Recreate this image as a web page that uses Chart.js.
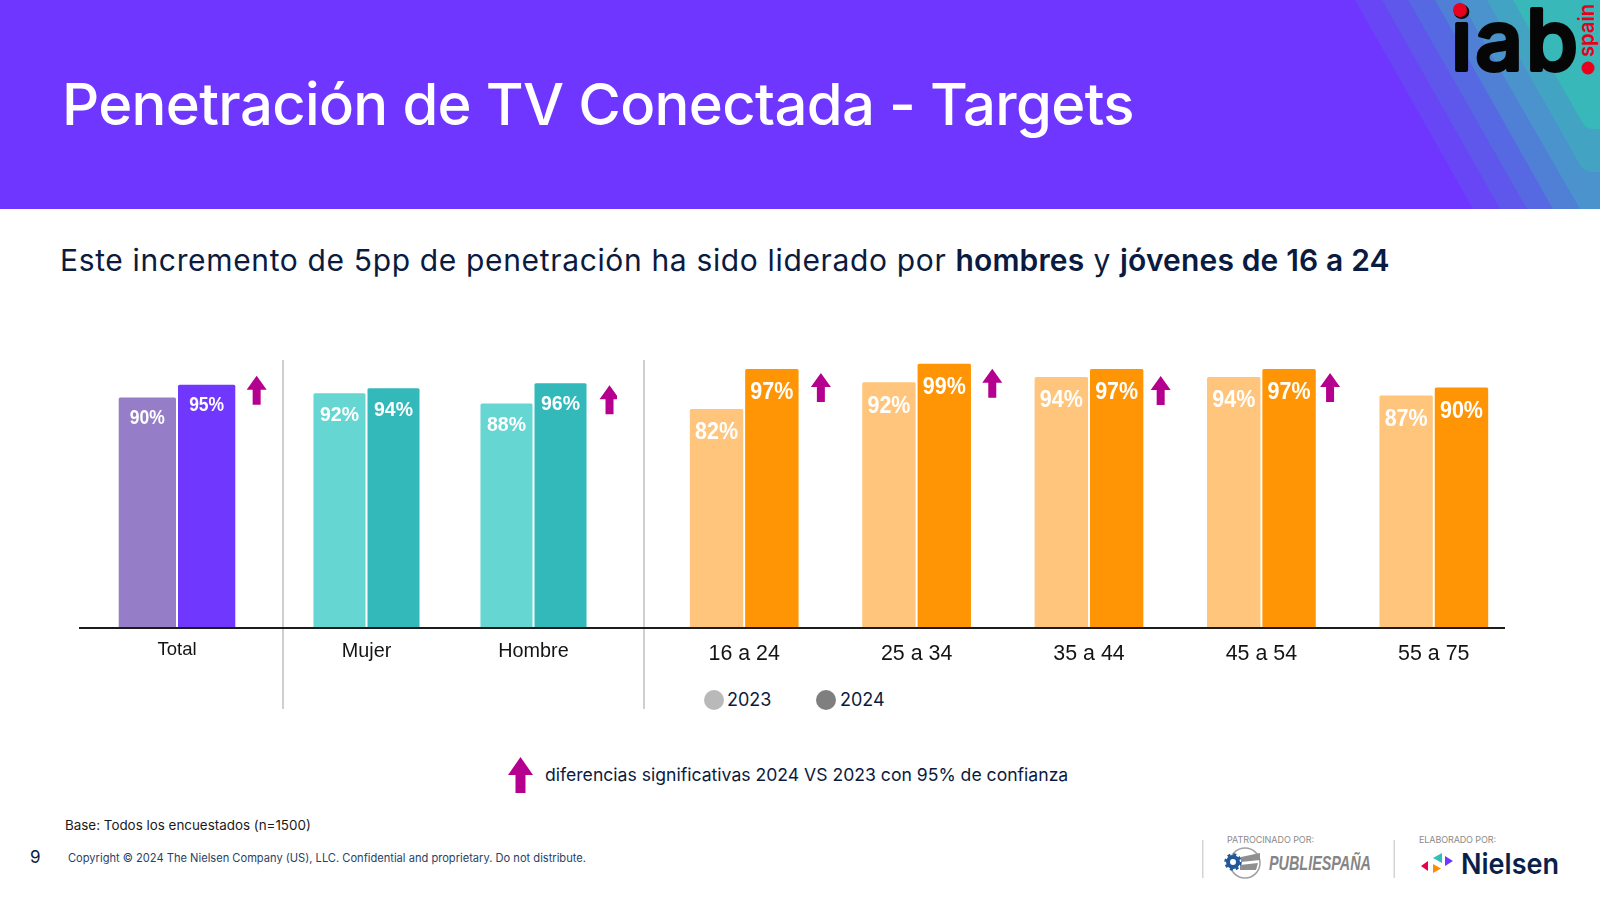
<!DOCTYPE html>
<html lang="es">
<head>
<meta charset="utf-8">
<title>Penetración de TV Conectada - Targets</title>
<script src="https://cdn.jsdelivr.net/npm/chart.js@4/dist/chart.umd.min.js"></script>
<style>
  html, body { margin: 0; background: #fff; }
  body { position: relative; width: 1600px; height: 900px; overflow: hidden; font-family: Inter, sans-serif; color: #0b1b40; }
  .abs { position: absolute; white-space: nowrap; }
  .panel { position: absolute; }
  #header { position: absolute; left: 0; top: 0; width: 1600px; height: 209px; }
  #title { left: 62px; top: 66px; font-size: 58px; font-weight: 500; line-height: 76px; color: #fff; letter-spacing: -0.65px; }
  #subtitle { left: 60px; top: 240px; font-size: 30px; line-height: 40px; letter-spacing: 0.65px; }
  #subtitle b { font-weight: 600; letter-spacing: 0.15px; }
  .sep { position: absolute; width: 2px; top: 360px; height: 349px; background: #cfcfd2; }
  #baseline { position: absolute; left: 79px; top: 627px; width: 1426px; height: 2px; background: #1c1c1c; }
  .dot { position: absolute; width: 20px; height: 20px; border-radius: 50%; top: 690px; }
  .legtext { top: 688px; font-size: 18px; line-height: 24px; }
</style>
</head>
<body>
<svg id="header" viewBox="0 0 1600 209">
  <rect width="1600" height="209" fill="#6e36ff"/>
  <polygon points="1355,0 1600,0 1600,209 1473,209" fill="#6846f6"/>
  <polygon points="1382,0 1600,0 1600,209 1500,209" fill="#5f56ec"/>
  <polygon points="1408,0 1600,0 1600,209 1527,209" fill="#5668e2"/>
  <polygon points="1435,0 1600,0 1600,209 1553,209" fill="#4f80d6"/>
  <polygon points="1460,0 1600,0 1600,209 1580,209" fill="#4a93cc"/>
  <path d="M1487,0 L1600,0 L1600,172 L1592,172 Q1584,172 1580,165 Z" fill="#42a4c2"/>
  <path d="M1513,0 L1600,0 L1600,129 L1592,129 Q1586,129 1582,122 Z" fill="#38b8b8"/>
  <text x="1451" y="70" font-family="Inter" font-weight="500" font-size="84" textLength="127" lengthAdjust="spacing" fill="#060606" stroke="#060606" stroke-width="4" stroke-linejoin="round">iab</text>
  <circle cx="1460" cy="10" r="7" fill="#e8001c"/>
  <text transform="translate(1594,57) rotate(-90)" font-family="Inter" font-weight="600" font-size="22" textLength="53" lengthAdjust="spacingAndGlyphs" fill="#e8001c">spain</text>
  <circle cx="1588" cy="68" r="6.5" fill="#e8001c"/>
</svg>
<div id="title" class="abs">Penetración de TV Conectada - Targets</div>
<div id="subtitle" class="abs">Este incremento de 5pp de penetración ha sido liderado por <b>hombres</b> y <b>jóvenes de 16 a 24</b></div>

<div class="sep" style="left:282px"></div>
<div class="sep" style="left:643px"></div>

<div class="panel" style="left:79px;top:372px;width:196px;height:305px"><canvas id="chartTotal"></canvas></div>
<div class="panel" style="left:283px;top:373px;width:334px;height:304px"><canvas id="chartGender"></canvas></div>
<div class="panel" style="left:658px;top:361px;width:862px;height:316px"><canvas id="chartAge"></canvas></div>
<div id="baseline"></div>

<div class="dot" style="left:704px;background:#b9b9b9"></div>
<div class="abs legtext" style="left:727px">2023</div>
<div class="dot" style="left:816px;background:#7f7f7f"></div>
<div class="abs legtext" style="left:840px">2024</div>

<svg class="abs" style="left:507px;top:756px" width="27" height="38" viewBox="0 0 27 38">
  <polygon points="13.5,1 26,19 18.5,19 18.5,37 8.5,37 8.5,19 1,19" fill="#b5008f"/>
</svg>
<div class="abs" style="left:545px;top:762px;font-size:17.6px;line-height:26px">diferencias significativas 2024 VS 2023 con 95% de confianza</div>

<div class="abs" style="left:65px;top:816px;font-size:13.4px;line-height:18px;color:#1a1a1a">Base: Todos los encuestados (n=1500)</div>
<div class="abs" style="left:30px;top:846px;font-size:17px;line-height:22px">9</div>
<div class="abs" style="left:68px;top:850px;font-size:11.12px;line-height:16px;color:#2a3f66">Copyright © 2024 The Nielsen Company (US), LLC. Confidential and proprietary. Do not distribute.</div>

<svg class="abs" style="left:1190px;top:825px" width="410" height="70" viewBox="1190 825 410 70">
  <rect x="1202" y="840" width="1.5" height="38" fill="#d4d4d4"/>
  <rect x="1393.5" y="840" width="1.5" height="38" fill="#d4d4d4"/>
  <text x="1227" y="843" font-family="Inter" font-size="9" textLength="87" fill="#8a8a8a">PATROCINADO POR:</text>
  <text x="1419" y="843" font-family="Inter" font-size="9" textLength="77" fill="#8a8a8a">ELABORADO POR:</text>
  <circle cx="1245" cy="863" r="15" fill="none" stroke="#a0a0a0" stroke-width="1.5"/>
  <polygon points="1241,857 1260,853 1260,860 1241,862" fill="#8f8f8f"/>
  <polygon points="1240,865 1258,863 1256,870 1240,870" fill="#8f8f8f"/>
  <circle cx="1233" cy="862" r="5" fill="#fff" stroke="#22589a" stroke-width="4"/>
  <circle cx="1233" cy="862" r="7.5" fill="none" stroke="#22589a" stroke-width="2.5" stroke-dasharray="3 2.9"/>
  <text x="1269" y="870" font-family="Liberation Sans" font-weight="700" font-style="italic" font-size="20" textLength="102" lengthAdjust="spacingAndGlyphs" fill="#858585">PUBLIESPAÑA</text>
  <polygon points="1421,866 1428,861 1428,871" fill="#e6004d"/>
  <polygon points="1433,858 1442,853 1442,863" fill="#2fc0b8"/>
  <polygon points="1445,856 1453,861 1445,866" fill="#7038ff"/>
  <polygon points="1433,864 1441,868.5 1433,873" fill="#ff8c00"/>
  <text x="1461" y="874" font-family="Inter" font-weight="600" font-size="29" textLength="98" lengthAdjust="spacingAndGlyphs" fill="#0b1f4b">Nielsen</text>
</svg>

<script>
const totalLabels = ['Total'];
const total2023 = [90];
const total2024 = [95];

const genderLabels = ['Mujer', 'Hombre'];
const gender2023 = [92, 88];
const gender2024 = [94, 96];

const ageLabels = ['16 a 24', '25 a 34', '35 a 44', '45 a 54', '55 a 75'];
const age2023 = [82, 92, 94, 94, 87];
const age2024 = [97, 99, 97, 97, 90];

const seriesNames = ['2023', '2024'];

// white % text inside the top of each bar, squeezed a bit like the original
const barValues = {
  id: 'barValues',
  afterDatasetsDraw(chart, args, opts) {
    const { ctx } = chart;
    ctx.save();
    ctx.font = `bold ${opts.size}px "Liberation Sans", Arial, sans-serif`;
    ctx.fillStyle = '#fff';
    ctx.textAlign = 'center';
    ctx.textBaseline = 'middle';
    chart.data.datasets.forEach((ds, i) => {
      chart.getDatasetMeta(i).data.forEach((bar, j) => {
        ctx.fillText(ds.data[j] + '%', bar.x, bar.y + opts.offset, opts.width);
      });
    });
    ctx.restore();
  }
};

// magenta arrows next to the 2024 bar, for significant differences
const sigArrows = {
  id: 'sigArrows',
  afterDatasetsDraw(chart, args, opts) {
    const { ctx } = chart;
    const bars = chart.getDatasetMeta(1).data;
    ctx.save();
    ctx.fillStyle = '#b5008f';
    (opts.items || []).forEach(it => {
      const x = bars[it.index].x + it.dx;
      const y = bars[it.index].y + it.dy;
      ctx.beginPath();
      ctx.moveTo(x, y);
      ctx.lineTo(x + 10, y + 14);
      ctx.lineTo(x + 4, y + 14);
      ctx.lineTo(x + 4, y + 29);
      ctx.lineTo(x - 4, y + 29);
      ctx.lineTo(x - 4, y + 14);
      ctx.lineTo(x - 10, y + 14);
      ctx.closePath();
      ctx.fill();
    });
    ctx.restore();
  }
};

function panel(id, labels, v23, v24, cfg) {
  const el = document.getElementById(id);
  const box = el.parentElement;
  return new Chart(el, {
    type: 'bar',
    data: {
      labels,
      datasets: [
        { label: seriesNames[0], data: v23, backgroundColor: cfg.colors[0] },
        { label: seriesNames[1], data: v24, backgroundColor: cfg.colors[1] },
      ]
    },
    options: {
      responsive: true,
      maintainAspectRatio: false,
      animation: false,
      layout: { padding: 0 },
      categoryPercentage: cfg.catPct,
      barPercentage: cfg.barPct,
      borderRadius: 1.5,
      scales: {
        y: { display: false, min: 0, max: 100 },
        x: {
          border: { display: false },
          grid: { display: false, drawTicks: false },
          afterFit: s => { s.height = box.clientHeight - cfg.areaHeight; },
          ticks: {
            color: '#141414',
            padding: cfg.tickPad,
            autoSkip: false,
            maxRotation: 0,
            font: { family: '"Liberation Sans", Arial, sans-serif', size: cfg.tickSize }
          }
        }
      },
      plugins: {
        legend: { display: false },
        tooltip: { enabled: false },
        barValues: { size: cfg.valueSize, width: cfg.valueWidth, offset: cfg.valueOffset },
        sigArrows: { items: cfg.arrows }
      }
    },
    plugins: [barValues, sigArrows]
  });
}

panel('chartTotal', totalLabels, total2023, total2024, {
  colors: ['#967dc8', '#7038ff'],
  catPct: 0.605, barPct: 0.966, areaHeight: 255,
  tickSize: 18.5, tickPad: 12, valueSize: 20, valueWidth: 35, valueOffset: 20.5,
  arrows: [{ index: 0, dx: 50, dy: -9 }]
});

panel('chartGender', genderLabels, gender2023, gender2024, {
  colors: ['#65d6d2', '#33b9ba'],
  catPct: 0.647, barPct: 0.963, areaHeight: 254,
  tickSize: 19.8, tickPad: 13, valueSize: 21, valueWidth: 39, valueOffset: 21.5,
  arrows: [{ index: 1, dx: 49, dy: 2 }]
});

panel('chartAge', ageLabels, age2023, age2024, {
  colors: ['#ffc57d', '#ff9505'],
  catPct: 0.642, barPct: 0.965, areaHeight: 266,
  tickSize: 21.4, tickPad: 14, valueSize: 23.5, valueWidth: 43, valueOffset: 24,
  arrows: [
    { index: 0, dx: 49, dy: 4 },
    { index: 1, dx: 48, dy: 5 },
    { index: 2, dx: 44, dy: 7 },
    { index: 3, dx: 41, dy: 4 }
  ]
});
</script>
</body>
</html>
